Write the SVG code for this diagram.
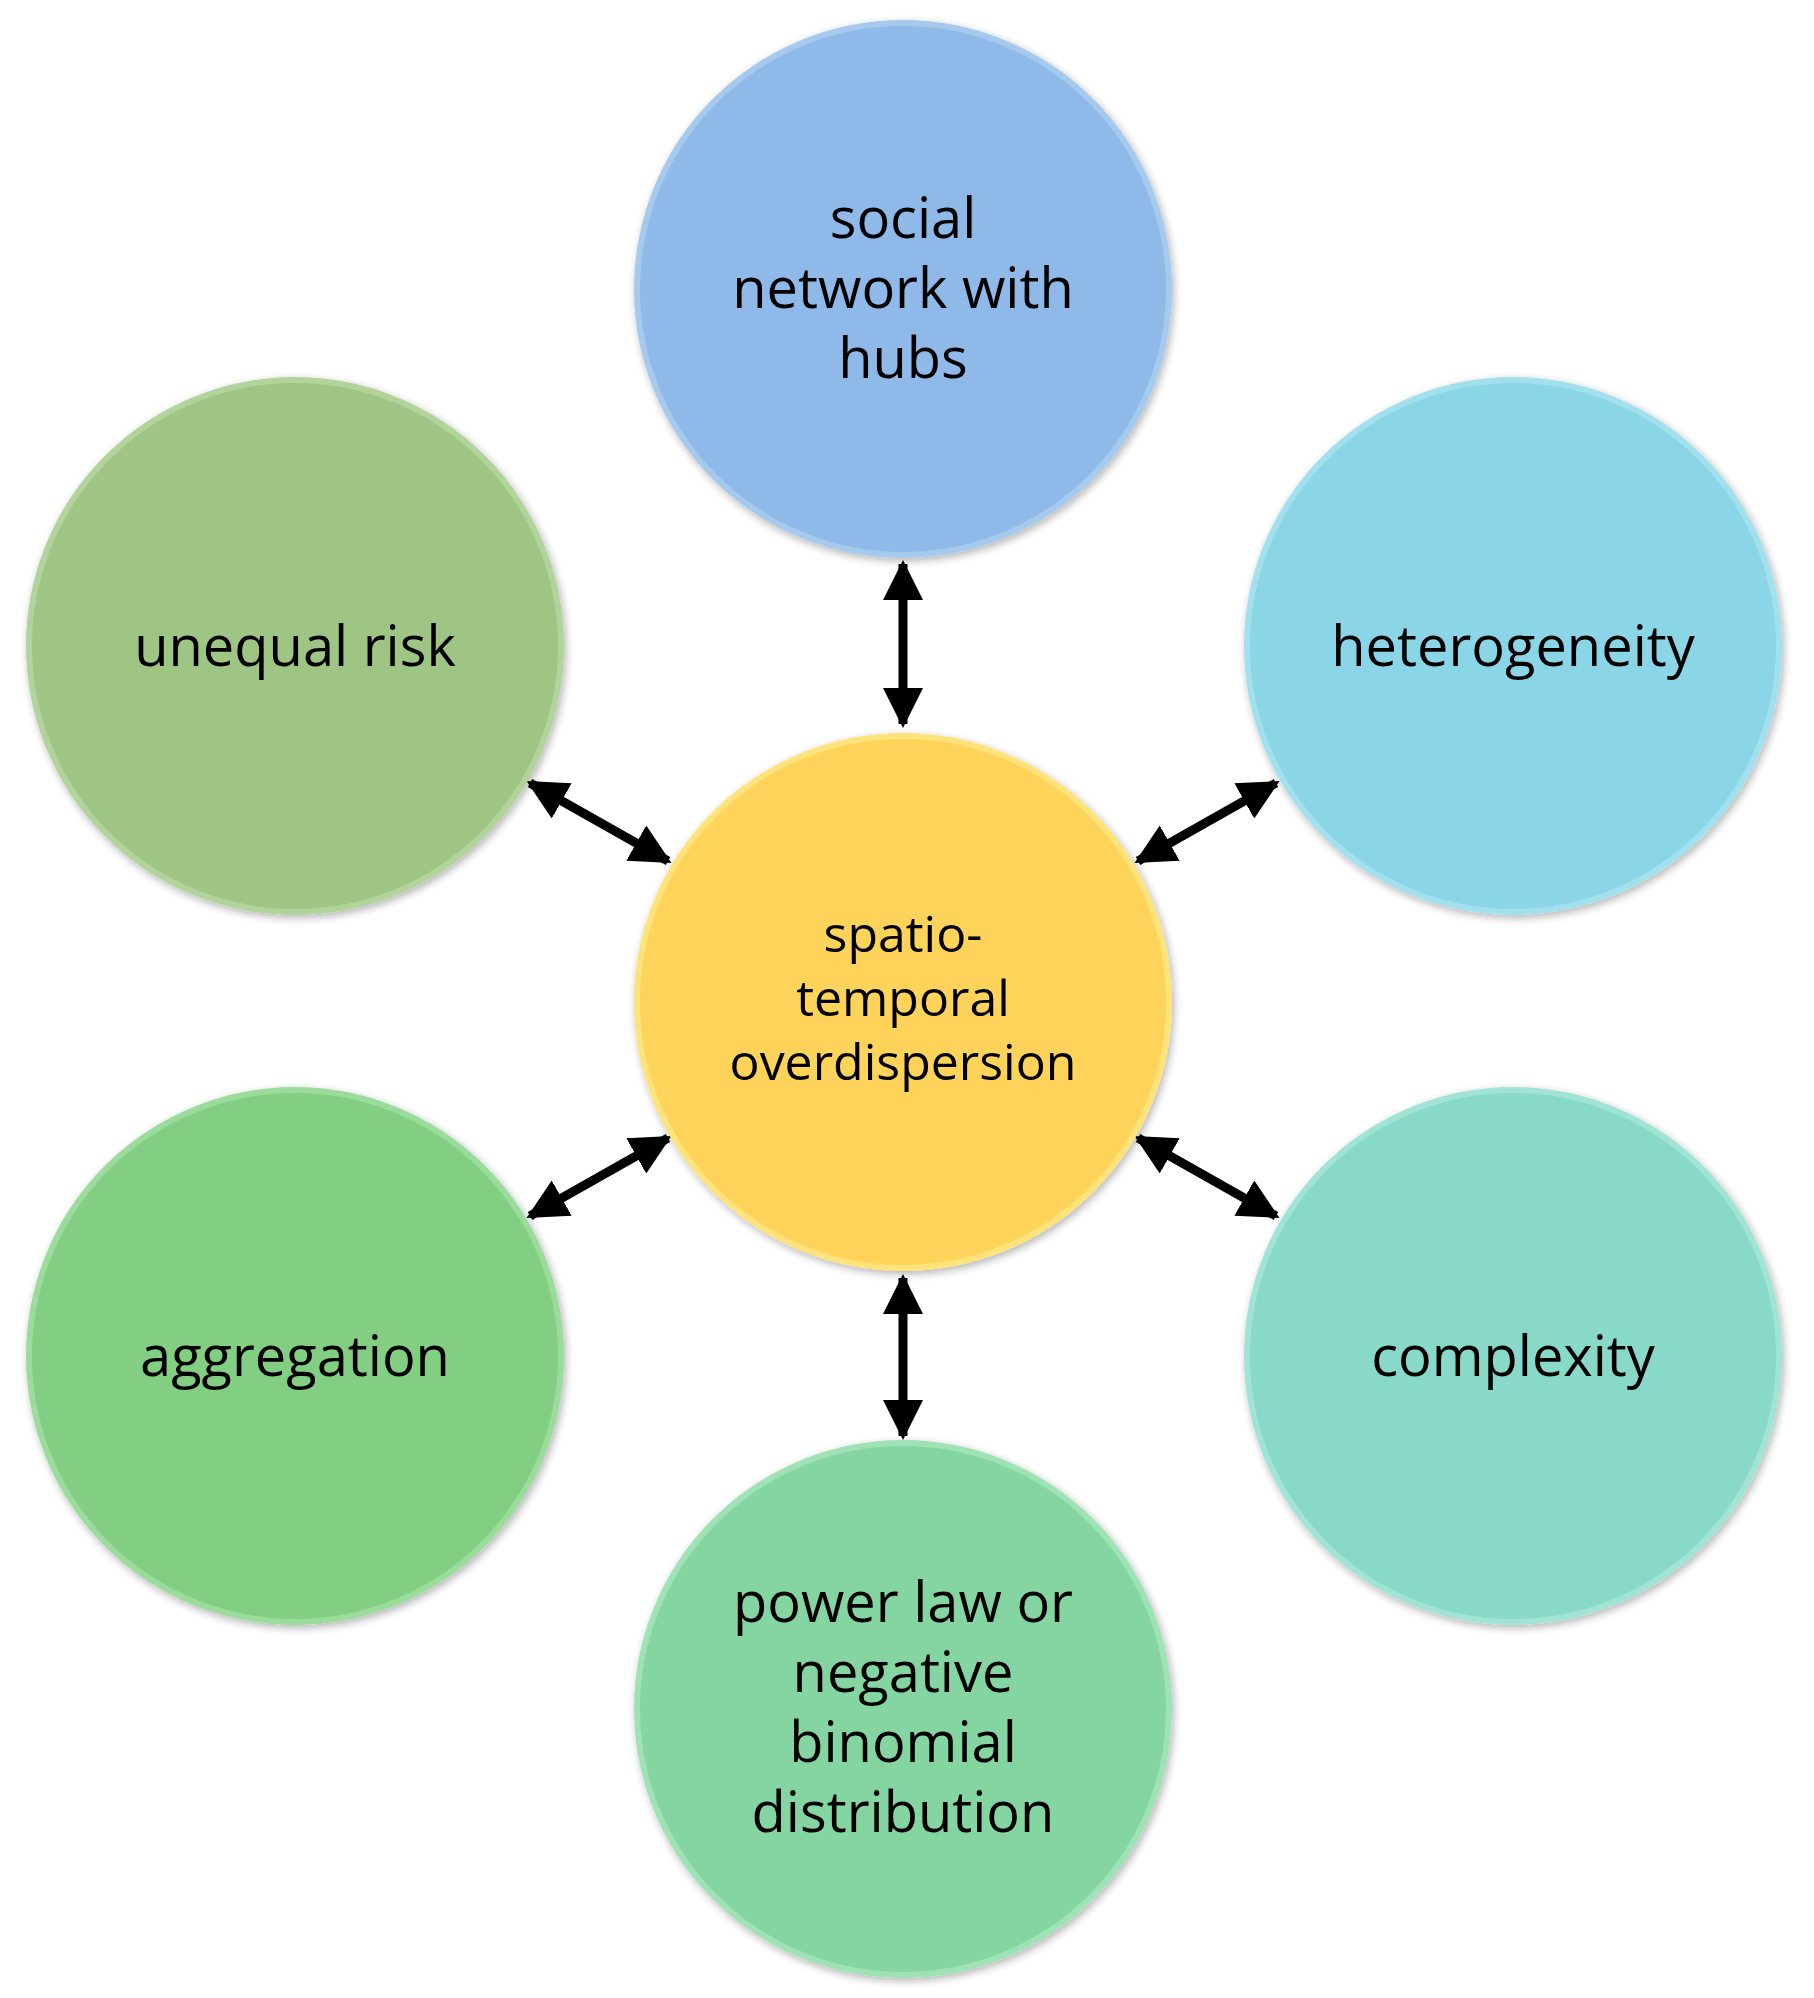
<svg xmlns="http://www.w3.org/2000/svg" width="1814" height="1998" viewBox="0 0 1814 1998">
<defs>
<style>
text{font-family:"Open Sans","Noto Sans",sans-serif;font-size:56px;fill:#000;text-anchor:middle}
.c text{font-size:50px}
circle{stroke-width:6}
.ln{stroke:#000;stroke-width:9;fill:none;marker-start:url(#ah);marker-end:url(#ah)}
</style>
<marker id="ah" viewBox="0 0 10 10" refX="9" refY="5" markerWidth="4.5" markerHeight="4.5" orient="auto-start-reverse" markerUnits="strokeWidth"><path d="M0,0 L10,5 L0,10 z" fill="#000"/></marker>
<filter id="sh" x="-10%" y="-10%" width="120%" height="120%"><feGaussianBlur in="SourceAlpha" stdDeviation="4"/><feOffset dx="2" dy="3"/><feComponentTransfer><feFuncA type="linear" slope="0.3"/></feComponentTransfer><feMerge><feMergeNode/><feMergeNode in="SourceGraphic"/></feMerge></filter>
</defs>
<rect width="1814" height="1998" fill="#fff"/>
<g id="connectors">
<line class="ln" x1="903" y1="564" x2="903" y2="724"/>
<line class="ln" x1="903" y1="1278" x2="903" y2="1436"/>
<line class="ln" x1="530" y1="783" x2="668" y2="861"/>
<line class="ln" x1="1276" y1="783" x2="1138" y2="861"/>
<line class="ln" x1="530" y1="1216" x2="668" y2="1138"/>
<line class="ln" x1="1276" y1="1216" x2="1138" y2="1138"/>
</g>
<g id="top" filter="url(#sh)"><circle cx="903" cy="289" r="266" fill="#8EB9E9" stroke="#A6C9EE"/><text x="903" y="238">social</text><text x="903" y="308">network with</text><text x="903" y="378">hubs</text></g>
<g id="ul" filter="url(#sh)"><circle cx="295" cy="646" r="266" fill="#9EC584" stroke="#B3D39C"/><text x="295" y="666">unequal risk</text></g>
<g id="ur" filter="url(#sh)"><circle cx="1513" cy="646" r="266" fill="#8AD6E6" stroke="#A2E0EE"/><text x="1513" y="666">heterogeneity</text></g>
<g id="ll" filter="url(#sh)"><circle cx="295" cy="1356" r="266" fill="#82CF84" stroke="#9BDB9C"/><text x="295" y="1376">aggregation</text></g>
<g id="lr" filter="url(#sh)"><circle cx="1513" cy="1356" r="266" fill="#89D9C8" stroke="#A1E3D5"/><text x="1513" y="1376">complexity</text></g>
<g id="bottom" filter="url(#sh)"><circle cx="903" cy="1709" r="266" fill="#85D5A2" stroke="#9EE2B6"/><text x="903" y="1622">power law or</text><text x="903" y="1692">negative</text><text x="903" y="1762">binomial</text><text x="903" y="1832">distribution</text></g>
<g id="center" class="c" filter="url(#sh)"><circle cx="903" cy="1002" r="266" fill="#FDD35A" stroke="#FEE27A"/><text x="903" y="952">spatio-</text><text x="903" y="1016">temporal</text><text x="903" y="1080">overdispersion</text></g>
</svg>
